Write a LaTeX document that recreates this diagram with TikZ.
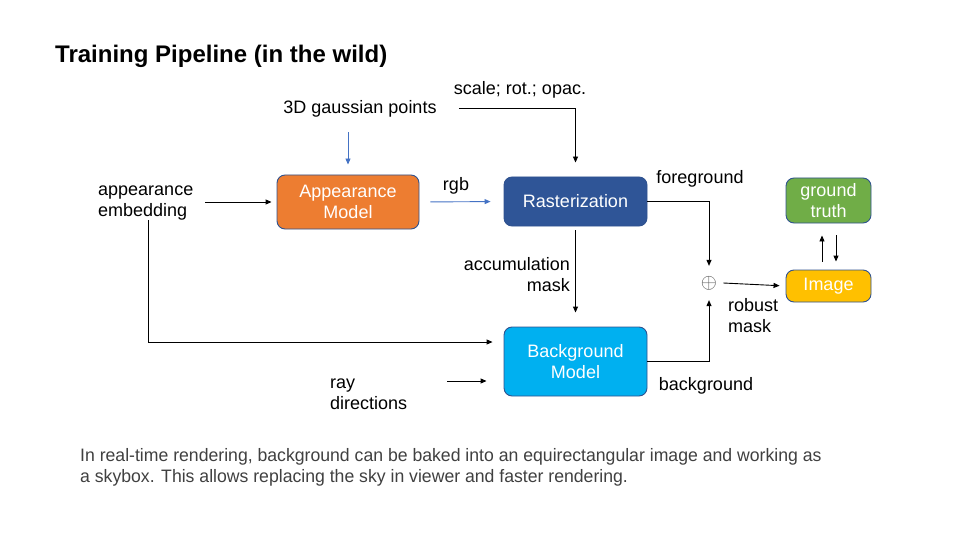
\documentclass[tikz,border=0pt]{standalone}
\usepackage{fontspec}
\setmainfont{Liberation Sans}
\newfontfamily\narrowfont[FakeStretch=0.98]{Liberation Sans}
\usetikzlibrary{arrows.meta,calc}
\definecolor{cOrange}{HTML}{ED7D31}
\definecolor{cRas}{HTML}{2F5597}
\definecolor{cBg}{HTML}{00B0F0}
\definecolor{cGt}{HTML}{70AD47}
\definecolor{cImg}{HTML}{FFC000}
\definecolor{cBorder}{HTML}{2F528F}
\definecolor{cBlueArrow}{HTML}{4472C4}
\definecolor{cNote}{HTML}{404040}
\tikzset{
  box/.style={draw=cBorder, line width=0.9pt, rounded corners=8pt, text=white, align=center, inner sep=0pt, font=\fontsize{18}{21}\selectfont},
  lbl/.style={inner sep=0pt, font=\fontsize{18}{21}\selectfont},
  arr/.style={-{Triangle[length=6pt,width=5pt]}, line width=0.9pt, black},
  barr/.style={-{Triangle[length=6pt,width=5pt]}, line width=0.9pt, cBlueArrow},
  ln/.style={line width=0.9pt, black}
}
\begin{document}
\begin{tikzpicture}[x=1pt,y=-1pt]
\useasboundingbox (0,0) rectangle (960,540);
% title
\node[anchor=west, inner sep=0pt, font=\fontsize{24}{28}\selectfont\bfseries] (title) at (55,56) {Training Pipeline (in the wild)};
% boxes
\node[box, fill=cOrange, minimum width=142pt, minimum height=54pt] (app) at (348,202) {Appearance\\Model};
\node[box, fill=cRas, minimum width=143pt, minimum height=49pt] (ras) at (575.5,201.5) {Rasterization};
\node[box, fill=cBg, minimum width=143pt, minimum height=69pt] (bg) at (575.5,361.5) {Background\\Model};
\node[box, fill=cGt, minimum width=85pt, minimum height=45pt] (gt) at (828.5,200.5) {ground\\truth};
\node[box, fill=cImg, minimum width=85pt, minimum height=32pt] (img) at (828.5,286) {Image};
% labels
\node[lbl] (gp) at (360,108.5) {3D gaussian points};
\node[lbl] (scale) at (520,89.5) {scale; rot.; opac.};
\node[lbl] (rgb) at (456,186) {rgb};
\node[lbl] (fg) at (700,179) {foreground};
\node[lbl, anchor=east, align=right] (acc) at (570,275) {accumulation\\mask};
\node[lbl] (bglbl) at (706,386) {background};
\node[lbl, anchor=west, align=left] (rob) at (728,316) {robust\\mask};
\node[lbl, anchor=west, align=left] (ray) at (330,394.5) {ray\\directions};
\node[lbl, anchor=west, align=left] (emb) at (98,203) {appearance\\embedding};
\node[inner xsep=6pt, inner ysep=10pt, font=\fontsize{20}{20}\selectfont, text=black!65] (plus) at (709,283) {$\oplus$};
% note
\node[anchor=west, align=left, inner sep=0pt, text=cNote, font=\narrowfont\fontsize{18}{21}\selectfont] (note) at (80,467.5) {In real-time rendering, background can be baked into an equirectangular image and working as\\a skybox. This allows replacing the sky in viewer and faster rendering.};
% helper coordinates
\coordinate (bgup) at ([yshift=19.5pt]bg.west);
\coordinate (bgdn) at ([yshift=-19.5pt]bg.west);
\coordinate (gpstart) at ([yshift=-15pt]app.north |- gp.south);
% connectors
\draw[barr, shorten >=10pt] (gpstart) -- (app.north);
\draw[arr, shorten <=22pt, shorten >=14pt] (gp.east) -| (ras.north);
\draw[arr, shorten >=5pt] ([xshift=12pt]emb.east |- app.west) -- (app.west);
\draw[barr, shorten <=11pt, shorten >=13pt] (app.east) -- (ras.west);
\draw[arr, shorten <=4pt, shorten >=14pt] (ras.south) -- (bg.north);
\draw[arr] (ras.east) -| (plus.north);
\draw[arr] (bg.east) -| (plus.south);
\draw[arr, shorten >=6pt] (plus.east) -- (img.west);
\draw[arr, shorten >=11pt] ([xshift=3pt]emb.south) |- (bgup);
\draw[arr, shorten <=40pt, shorten >=17pt] (ray.east |- bgdn) -- (bgdn);
\draw[arr, shorten <=8pt, shorten >=12pt] ([xshift=-6.5pt]img.north) -- ([xshift=-6.5pt]gt.south);
\draw[arr, shorten <=12pt, shorten >=8pt] ([xshift=7.5pt]gt.south) -- ([xshift=7.5pt]img.north);
\end{tikzpicture}
\end{document}
